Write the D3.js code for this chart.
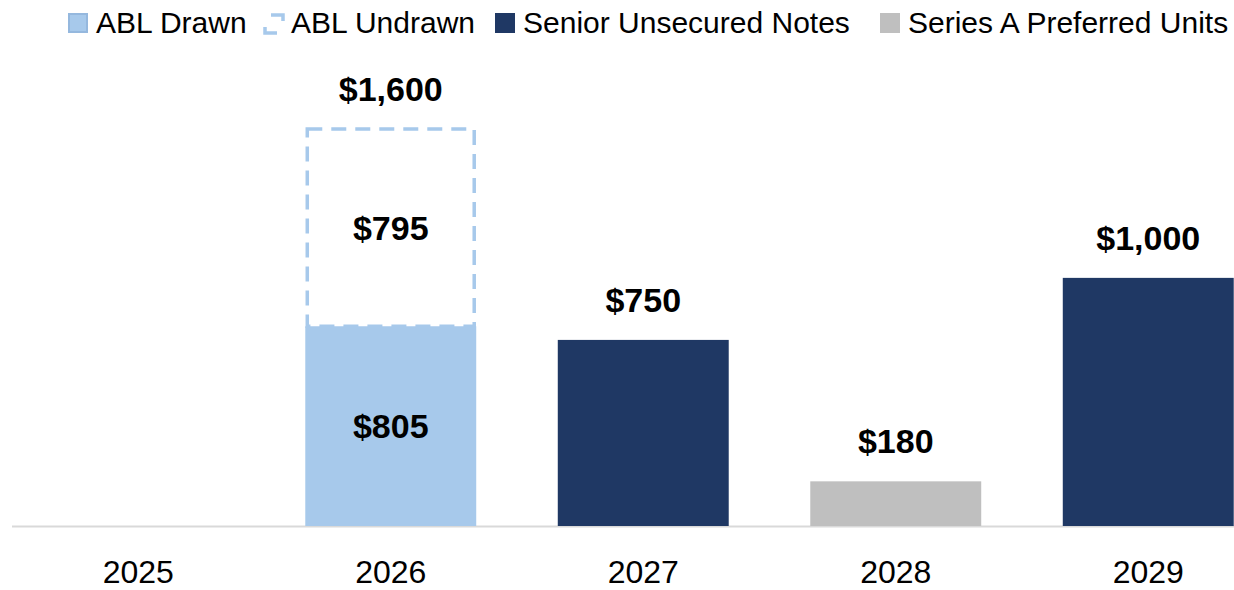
<!DOCTYPE html>
<html><head><meta charset="utf-8">
<script src="https://cdn.jsdelivr.net/npm/d3@7"></script>
<style>
html,body{margin:0;padding:0;background:#fff;}
svg{display:block;font-family:"Liberation Sans",Arial,sans-serif;}
</style></head>
<body>
<svg id="chart" width="1234" height="590"></svg>
<script>
const categories = ["2025","2026","2027","2028","2029"];
const ablDrawn    = [0, 805, 0, 0, 0];
const ablUndrawn  = [0, 795, 0, 0, 0];
const seniorNotes = [0, 0, 750, 0, 1000];
const preferred   = [0, 0, 0, 180, 0];
const seriesNames = ["ABL Drawn","ABL Undrawn","Senior Unsecured Notes","Series A Preferred Units"];

const colors = {drawn:"#A7C9EB", drawnEdge:"#95B8DE", navy:"#1F3864", gray:"#BFBFBF"};
const fmt = v => "$" + d3.format(",")(v);

const svg = d3.select("#chart");
const baseY = 526, topY = 129;
const x = d3.scaleBand().domain(categories).range([12, 1274.5]).paddingInner(0.323).paddingOuter(0.1615);
const y = d3.scaleLinear().domain([0, 1600]).range([baseY, topY]);

// axis line
svg.append("line").attr("x1",12).attr("x2",1234).attr("y1",baseY+0.5).attr("y2",baseY+0.5)
  .attr("stroke","#D9D9D9").attr("stroke-width",2);

const g = svg.append("g");
categories.forEach((c,i)=>{
  if(ablDrawn[i]>0){
    g.append("rect").attr("x",x(c)).attr("width",x.bandwidth())
      .attr("y",y(ablDrawn[i])).attr("height",y(0)-y(ablDrawn[i])).attr("fill",colors.drawn);
  }
  if(ablUndrawn[i]>0){
    const y0 = y(ablDrawn[i]), y1 = y(ablDrawn[i]+ablUndrawn[i]);
    g.append("rect").attr("x",x(c)+2).attr("width",x.bandwidth()-4)
      .attr("y",y1).attr("height",y0-y1).attr("fill","none")
      .attr("stroke",colors.drawn).attr("stroke-width",3.5).attr("stroke-dasharray","15,9");
  }
  if(seniorNotes[i]>0){
    g.append("rect").attr("x",x(c)).attr("width",x.bandwidth())
      .attr("y",y(seniorNotes[i])).attr("height",y(0)-y(seniorNotes[i])).attr("fill",colors.navy);
  }
  if(preferred[i]>0){
    g.append("rect").attr("x",x(c)).attr("width",x.bandwidth())
      .attr("y",y(preferred[i])).attr("height",y(0)-y(preferred[i])).attr("fill",colors.gray);
  }
});

// labels
const lab = svg.append("g").attr("font-weight","bold").attr("font-size",34).attr("fill","#000").attr("text-anchor","middle");
categories.forEach((c,i)=>{
  const cx = x(c)+x.bandwidth()/2;
  const total = ablDrawn[i]+ablUndrawn[i]+seniorNotes[i]+preferred[i];
  if(total>0){
    lab.append("text").attr("x",cx).attr("y",y(total)-28).text(fmt(total));
  }
  if(ablDrawn[i]>0){
    lab.append("text").attr("x",cx).attr("y",(y(0)+y(ablDrawn[i]))/2).attr("dy","0.36em").text(fmt(ablDrawn[i]));
  }
  if(ablUndrawn[i]>0){
    lab.append("text").attr("x",cx).attr("y",(y(ablDrawn[i])+y(ablDrawn[i]+ablUndrawn[i]))/2).attr("dy","0.36em").text(fmt(ablUndrawn[i]));
  }
});

// x tick labels
svg.append("g").attr("font-size",32).attr("fill","#000").attr("text-anchor","middle")
  .selectAll("text").data(categories).join("text")
  .attr("x",d=>x(d)+x.bandwidth()/2).attr("y",583).text(d=>d);

// legend
const leg = svg.append("g").attr("font-size",30).attr("fill","#000");
const legX = [68, 263, 495, 880];
const legendFills = [colors.drawn, "none", colors.navy, colors.gray];
seriesNames.forEach((n,i)=>{
  const lx = legX[i], ly = 13;
  if(i===0){
    leg.append("rect").attr("x",lx+1).attr("y",ly+1).attr("width",18).attr("height",18)
      .attr("fill",colors.drawn).attr("stroke",colors.drawnEdge).attr("stroke-width",2);
  } else if(i===1){
    leg.append("rect").attr("x",lx+2).attr("y",ly+2).attr("width",18).attr("height",18)
      .attr("fill","none").attr("stroke",colors.drawn).attr("stroke-width",3.5)
      .attr("stroke-dasharray","18,18").attr("stroke-dashoffset",30);
  } else {
    leg.append("rect").attr("x",lx).attr("y",ly).attr("width",20).attr("height",20).attr("fill",legendFills[i]);
  }
  leg.append("text").attr("x",lx+28).attr("y",ly+20).text(n);
});
</script>
</body></html>
